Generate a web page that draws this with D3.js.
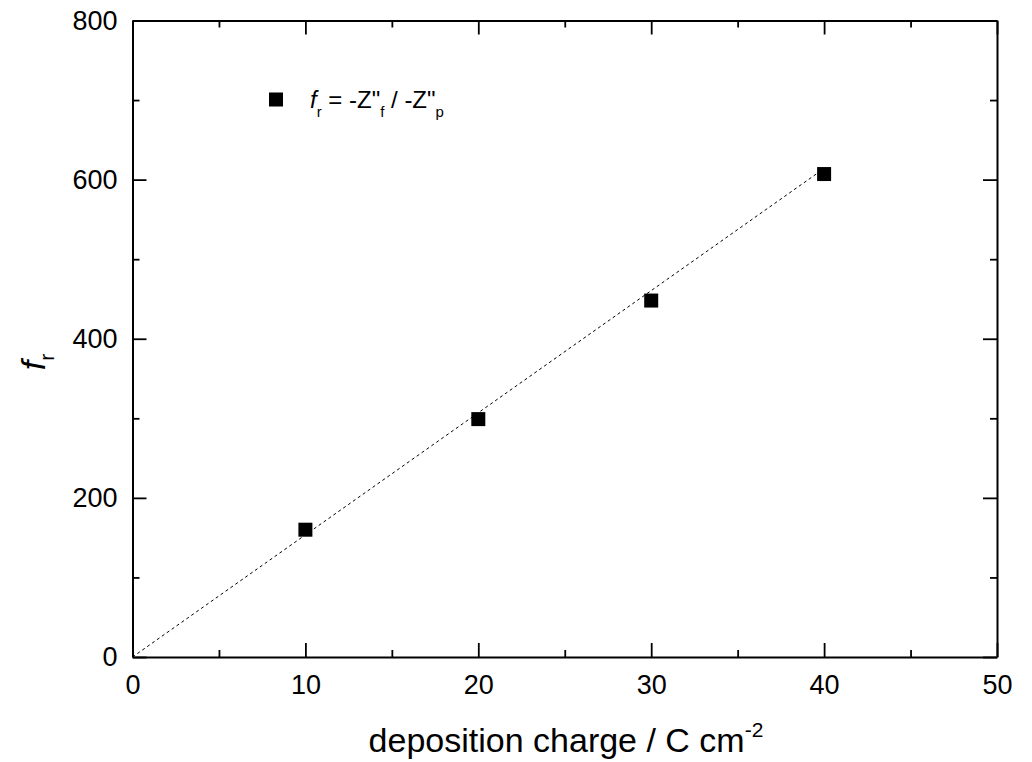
<!DOCTYPE html>
<html>
<head>
	<meta charset='utf-8'>
	<title>f_r vs deposition charge</title>
	<style>
		body { margin: 0; background: #fff; }
		svg text { font-family: Arial, 'Liberation Sans', sans-serif; fill: #000; }
		.axis path, .axis line { stroke: #000; }
		.axis path { stroke-width: 2px; }
		.axis line { stroke-width: 1.8px; }
		.fit { fill: none; stroke: #000; stroke-width: 1px; stroke-dasharray: 3,3; }
	</style>
</head>
<body>
<script src='https://d3js.org/d3.v7.min.js'></script>
<script>
	'use strict';
	// данные
	const charge = [10, 20, 30, 40];
	const fr = [160, 299, 448, 607];
	const fitX = [0, 40];
	const fitY = [0, 614];
	const xTicks = [0, 10, 20, 30, 40, 50];
	const yTicks = [0, 200, 400, 600, 800];

	const W = 1032, H = 762;
	const margin = {top: 20.5, right: 35, bottom: 105, left: 132.5};
	const width = W - margin.left - margin.right;
	const height = H - margin.top - margin.bottom;

	const x = d3.scaleLinear().domain([0, 50]).range([0, width]);
	const y = d3.scaleLinear().domain([0, 800]).range([height, 0]);

	const svg = d3.select('body').append('svg')
		.attr('width', W).attr('height', H)
		.append('g')
		.attr('transform', 'translate(' + margin.left + ',' + margin.top + ')');

	const minorX = d3.range(5, 50, 10);
	const minorY = d3.range(100, 800, 200);

	function ticks(g, axis) {
		g.attr('class', 'axis').call(axis);
	}

	// внизу
	svg.append('g').attr('transform', 'translate(0,' + height + ')')
		.call(ticks, d3.axisBottom(x).tickValues(xTicks).tickSizeInner(-14).tickSizeOuter(0).tickPadding(18))
		.selectAll('text').attr('font-size', 27).attr('dy', '0.72em');
	svg.append('g').attr('transform', 'translate(0,' + height + ')')
		.call(ticks, d3.axisBottom(x).tickValues(minorX).tickSize(-7).tickFormat(''))
		.select('.domain').remove();
	// вверху
	svg.append('g')
		.call(ticks, d3.axisTop(x).tickValues(xTicks).tickSizeInner(-14).tickSizeOuter(0).tickFormat(''));
	svg.append('g')
		.call(ticks, d3.axisTop(x).tickValues(minorX).tickSize(-7).tickFormat(''))
		.select('.domain').remove();
	// слева
	svg.append('g')
		.call(ticks, d3.axisLeft(y).tickValues(yTicks).tickSizeInner(-14).tickSizeOuter(0).tickPadding(15))
		.selectAll('text').attr('font-size', 27);
	svg.append('g')
		.call(ticks, d3.axisLeft(y).tickValues(minorY).tickSize(-7).tickFormat(''))
		.select('.domain').remove();
	// справа
	svg.append('g').attr('transform', 'translate(' + width + ',0)')
		.call(ticks, d3.axisRight(y).tickValues(yTicks).tickSizeInner(-14).tickSizeOuter(0).tickFormat(''));
	svg.append('g').attr('transform', 'translate(' + width + ',0)')
		.call(ticks, d3.axisRight(y).tickValues(minorY).tickSize(-7).tickFormat(''))
		.select('.domain').remove();

	// линия аппроксимации
	svg.append('path')
		.datum(d3.zip(fitX, fitY))
		.attr('class', 'fit')
		.attr('d', d3.line().x(d => x(d[0])).y(d => y(d[1])));

	// точки
	const s = 14;
	svg.selectAll('.pt')
		.data(d3.zip(charge, fr))
		.enter().append('rect')
		.attr('class', 'pt')
		.attr('x', d => x(d[0]) - s / 2)
		.attr('y', d => y(d[1]) - s / 2)
		.attr('width', s).attr('height', s)
		.attr('fill', '#000');

	// легенда
	svg.append('rect')
		.attr('x', 276 - margin.left - 7).attr('y', 99.5 - margin.top - 7)
		.attr('width', 14).attr('height', 14).attr('fill', '#000');
	const leg = svg.append('text')
		.attr('x', 310 - margin.left).attr('y', 108 - margin.top)
		.attr('font-size', 24);
	leg.append('tspan').attr('font-style', 'italic').text('f');
	leg.append('tspan').attr('font-size', 15).attr('dy', 9).text('r');
	leg.append('tspan').attr('dy', -9).text(' = -Z"');
	leg.append('tspan').attr('font-size', 15).attr('dy', 9).text('f');
	leg.append('tspan').attr('dy', -9).text(' / -Z"');
	leg.append('tspan').attr('font-size', 15).attr('dy', 9).text('p');

	// подписи осей
	const xt = svg.append('text')
		.attr('x', 566 - margin.left).attr('y', 752 - margin.top)
		.attr('text-anchor', 'middle')
		.attr('font-size', 34);
	xt.append('tspan').text('deposition charge / C cm');
	xt.append('tspan').attr('font-size', 21).attr('dy', -15).text('-2');

	const yt = svg.append('text')
		.attr('transform', 'translate(' + (45 - margin.left) + ',' + (362 - margin.top) + ') rotate(-90)')
		.attr('text-anchor', 'middle')
		.attr('font-size', 34);
	yt.append('tspan').attr('font-style', 'italic').text('f');
	yt.append('tspan').attr('font-size', 21).attr('dy', 9).text('r');
</script>
</body>
</html>
